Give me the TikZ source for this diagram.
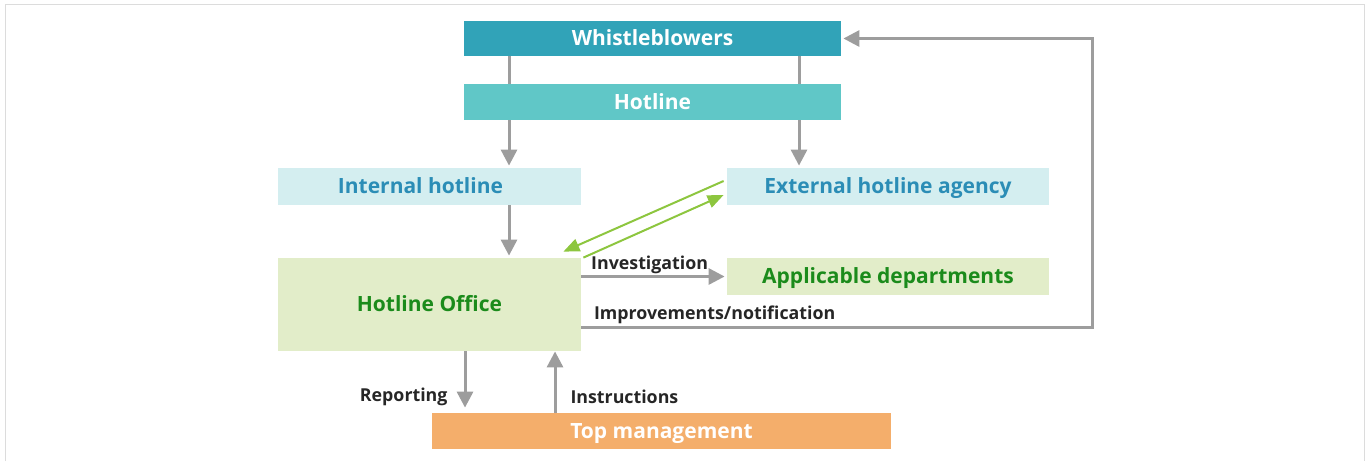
\documentclass[tikz,border=0pt]{standalone}
\usepackage{fontspec}
\setmainfont{Open Sans}
\usepackage{tikz}
\usepackage{xcolor}
\usetikzlibrary{
    arrows.meta,
    positioning
}
\definecolor{blowerteal}{HTML}{31A3B8}
\definecolor{hotlineteal}{HTML}{60C7C7}
\definecolor{paleblue}{HTML}{D4EEF0}
\definecolor{bluetext}{HTML}{2B8DB6}
\definecolor{palegreen}{HTML}{E2EDC9}
\definecolor{greentext}{HTML}{1B8B1B}
\definecolor{mgmtorange}{HTML}{F4AE6B}
\definecolor{linegray}{HTML}{9D9D9D}
\definecolor{arrowgreen}{HTML}{8DC63F}
\definecolor{framegray}{HTML}{DCDCDC}

\tikzset{
    box/.style={rectangle, inner sep=0pt, align=center, text height=7.1pt, text depth=0pt, font=\fontsize{10.5}{12}\selectfont\bfseries},
    darkbox/.style={box, fill=#1, text=white},
    palebox/.style={box, fill=#1},
    lbl/.style={inner sep=1pt, font=\fontsize{8.9}{10}\selectfont\bfseries, text=black!85},
    flow/.style={draw=linegray, line width=1.5pt, -{Triangle[length=8pt, width=8pt]}, color=linegray},
    plainflow/.style={draw=linegray, line width=1.5pt},
    greenflow/.style={draw=arrowgreen, line width=1pt, -{Triangle[length=8pt, width=6.5pt]}, color=arrowgreen}
}

\begin{document}
\begin{tikzpicture}[x=0.5pt, y=-0.5pt]
    \useasboundingbox (0,0) rectangle (1368,461);
    \draw[framegray, line width=0.8pt] (5.5,461) -- (5.5,4.5) -- (1364.5,4.5) -- (1364.5,461);

    % boxes
    \node[darkbox=blowerteal, minimum width=188.5pt, minimum height=17.5pt] (whistle) at (652.5, 38.5) {Whistleblowers};
    \node[darkbox=hotlineteal, minimum width=188.5pt, minimum height=18pt] (hotline) at (652.5, 102) {Hotline};

    \node[palebox=paleblue, text=bluetext, minimum width=151.5pt, minimum height=18.5pt] (internal) at (429.5, 186.5) {Internal hotline\hspace*{9pt}};
    \node[palebox=paleblue, text=bluetext, minimum width=161pt, minimum height=18.5pt] (external) at (888, 186.5) {External hotline agency};

    \node[palebox=palegreen, text=greentext, minimum width=151.5pt, minimum height=46.5pt] (office) at (429.5, 304.5) {Hotline Office};
    \node[palebox=palegreen, text=greentext, minimum width=161pt, minimum height=18.5pt] (depts) at (888, 276.5) {Applicable departments};

    \node[darkbox=mgmtorange, minimum width=229.5pt, minimum height=18pt] (topmgmt) at (661.5, 431) {Top management};

    % whistleblowers -> hotline -> internal / external
    \draw[plainflow] (whistle.south -| 509,0) -- (hotline.north -| 509,0);
    \draw[plainflow] (whistle.south -| 799,0) -- (hotline.north -| 799,0);
    \draw[flow, shorten >=1pt] (hotline.south -| 509,0) -- (internal.north -| 509,0);
    \draw[flow, shorten >=1pt] (hotline.south -| 799,0) -- (external.north -| 799,0);
    \draw[flow, shorten >=1pt] (internal.south -| 509,0) -- (office.north -| 509,0);

    % office <-> external agency
    \draw[greenflow] ([xshift=-1.5pt, yshift=2.75pt]external.west) -- ([xshift=-9pt, yshift=3pt]office.north east);
    \draw[greenflow] ([xshift=1pt]office.north east) -- ([xshift=-1.5pt, yshift=-4.25pt]external.west);

    % investigation, improvements
    \draw[flow, shorten >=1pt] (office.east |- depts.west) -- node[lbl, above, pos=0.47, yshift=-0.5pt] (invlbl) {Investigation} (depts.west);
    \draw[flow, shorten >=1pt] ([yshift=-11.25pt]office.east) -- node[lbl, above, pos=0.261, yshift=0pt] (implbl) {Improvements/notification} (1092,327) |- (whistle.east);

    % office <-> top management
    \draw[flow, shorten >=2.5pt] (office.south -| 465,0) -- node[lbl, left, pos=0.74, xshift=-7pt] (replbl) {Reporting} (topmgmt.north -| 465,0);
    \draw[flow] (topmgmt.north -| 555,0) -- node[lbl, right, pos=0.26, xshift=6pt] (inslbl) {Instructions} (office.south -| 555,0);
\end{tikzpicture}
\end{document}
